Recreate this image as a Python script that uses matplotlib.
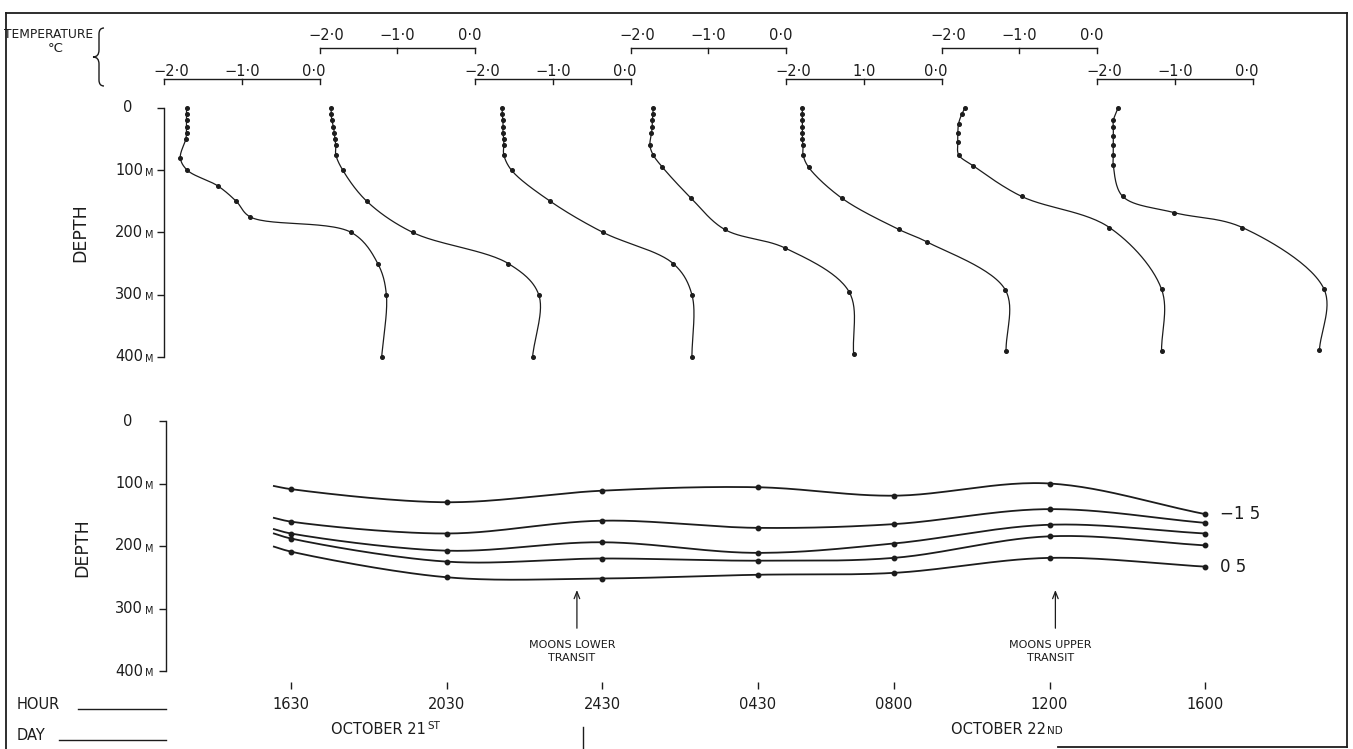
"""
Vertical temperature profiles (top) and isotherm depths (bottom),
October 21st-22nd, with the moon's transits marked.
"""
import numpy as np
import matplotlib

matplotlib.use("Agg")
import matplotlib.pyplot as plt
from matplotlib.lines import Line2D
from matplotlib.patches import PathPatch
from matplotlib.path import Path
from matplotlib.transforms import blended_transform_factory

W, H = 1353, 749
INK = "#1c1c1c"

# --- data ---
# top panel: one temperature profile per station (depth m, temperature C)
profile_depths = [
    [0, 10, 20, 30, 40, 50, 80, 100, 125, 150, 175, 200, 250, 300, 400],
    [0, 10, 20, 30, 40, 50, 60, 75, 100, 150, 200, 250, 300, 400],
    [0, 10, 20, 30, 40, 50, 60, 75, 100, 150, 200, 250, 300, 400],
    [0, 10, 20, 30, 40, 60, 75, 95, 145, 195, 225, 295, 395],
    [0, 10, 20, 30, 40, 50, 60, 75, 95, 145, 195, 215, 292, 391],
    [0, 10, 25, 40, 55, 75, 93, 142, 192, 291, 390],
    [0, 20, 30, 45, 60, 75, 92, 142, 168, 192, 291, 389],
]
profile_temps = [
    [-1.71, -1.71, -1.71, -1.71, -1.71, -1.72, -1.79, -1.70, -1.31, -1.07, -0.89, 0.41, 0.75, 0.86, 0.80],
    [-1.85, -1.85, -1.84, -1.82, -1.81, -1.80, -1.79, -1.79, -1.70, -1.39, -0.80, 0.43, 0.82, 0.74],
    [-1.65, -1.65, -1.64, -1.64, -1.64, -1.63, -1.63, -1.63, -1.53, -1.03, -0.35, 0.55, 0.79, 0.79],
    [-1.71, -1.71, -1.72, -1.72, -1.73, -1.75, -1.71, -1.59, -1.22, -0.79, -0.01, 0.81, 0.87],
    [-1.79, -1.79, -1.79, -1.79, -1.79, -1.79, -1.78, -1.78, -1.71, -1.28, -0.55, -0.19, 0.82, 0.83],
    [-1.70, -1.74, -1.78, -1.79, -1.79, -1.78, -1.59, -0.97, 0.16, 0.83, 0.83],
    [-1.73, -1.79, -1.79, -1.79, -1.79, -1.79, -1.79, -1.67, -1.01, -0.13, 0.92, 0.86],
]
scale_ticks = [-2.0, -1.0, 0.0]
scale_ticklabels = [
    ["−2·0", "−1·0", "0·0"],
    ["−2·0", "−1·0", "0·0"],
    ["−2·0", "−1·0", "0·0"],
    ["−2·0", "−1·0", "0·0"],
    ["−2·0", "1·0", "0·0"],
    ["−2·0", "−1·0", "0·0"],
    ["−2·0", "−1·0", "0·0"],
]

# bottom panel: depth of each isotherm at each station
station_hours = [0, 4, 8, 12, 15.5, 19.5, 23.5]   # hours after 1630, Oct 21
hour_labels = ["1630", "2030", "2430", "0430", "0800", "1200", "1600"]
isotherm_values = [-1.5, -1.0, -0.5, 0.0, 0.5]
isotherm_depths = [
    [109, 130, 111.5, 106, 119.5, 100, 149],
    [161, 180, 159.5, 171, 165, 141, 163],
    [180, 207.5, 194, 211, 196, 166, 180],
    [188, 225, 220, 223.5, 219, 184.5, 199],
    [209, 250, 252, 246, 243, 219, 233],
]
isotherm_start_hour = -0.44
isotherm_start_depths = [104, 155, 173, 180, 201]
isotherm_labels = {0: "−1 5", 4: "0 5"}

transit_hours = [7.35, 19.65]
transit_labels = ["MOONS LOWER\nTRANSIT", "MOONS UPPER\nTRANSIT"]
midnight_hour = 7.5

depth_ticks = [0, 100, 200, 300, 400]


def fx(px):
    return px / W


def fy(py):
    return 1 - py / H


def smooth(x, y, sx, sy, n=30):
    """centripetal Catmull-Rom through the points (computed in pixel space)"""
    p = np.column_stack([np.asarray(x, float) * sx, np.asarray(y, float) * sy])
    p = np.vstack([2 * p[0] - p[1], p, 2 * p[-1] - p[-2]])
    out = []
    for i in range(1, len(p) - 2):
        p0, p1, p2, p3 = p[i - 1], p[i], p[i + 1], p[i + 2]
        t0 = 0.0
        t1 = t0 + max(np.hypot(*(p1 - p0)), 1e-6) ** 0.5
        t2 = t1 + max(np.hypot(*(p2 - p1)), 1e-6) ** 0.5
        t3 = t2 + max(np.hypot(*(p3 - p2)), 1e-6) ** 0.5
        t = np.linspace(t1, t2, n)[:, None]
        a1 = (t1 - t) / (t1 - t0) * p0 + (t - t0) / (t1 - t0) * p1
        a2 = (t2 - t) / (t2 - t1) * p1 + (t - t1) / (t2 - t1) * p2
        a3 = (t3 - t) / (t3 - t2) * p2 + (t - t2) / (t3 - t2) * p3
        b1 = (t2 - t) / (t2 - t0) * a1 + (t - t0) / (t2 - t0) * a2
        b2 = (t3 - t) / (t3 - t1) * a2 + (t - t1) / (t3 - t1) * a3
        c = (t2 - t) / (t2 - t1) * b1 + (t - t1) / (t2 - t1) * b2
        out.append(c)
    c = np.vstack(out)
    return c[:, 0] / sx, c[:, 1] / sy


def depth_axis(ax, left_px, right_px):
    ax.set_ylim(400, 0)
    for s in ("top", "right", "bottom"):
        ax.spines[s].set_visible(False)
    ax.spines["left"].set_color(INK)
    ax.spines["left"].set_linewidth(1.0)
    ax.set_yticks(depth_ticks, labels=[])
    ax.tick_params(axis="y", direction="out", length=5, width=1.0, color=INK)
    tr = ax.get_yaxis_transform()
    span = right_px - left_px
    for d in depth_ticks:
        if d == 0:
            ax.text((128 - left_px) / span, d, "0", transform=tr, ha="center",
                    va="center", fontsize=10.5, color=INK)
        else:
            ax.text((143 - left_px) / span, d, str(d), transform=tr, ha="right",
                    va="center", fontsize=10.5, color=INK)
            ax.text((145 - left_px) / span, d + 4, "M", transform=tr, ha="left",
                    va="center", fontsize=7, color=INK)


fig = plt.figure(figsize=(W / 100, H / 100), dpi=100)
plt.rcParams["font.family"] = ["DejaVu Sans"]

# --- top panel: profiles, each on its own shifted temperature scale ---
px_per_deg = 77.75
top_left, top_right = 164, 1345
ax1 = fig.add_axes([fx(top_left), fy(357), (top_right - top_left) / W, (357 - 108) / H])
ax1.set_xlim(0, (top_right - top_left) / px_per_deg)
ax1.set_xticks([])
ax1.patch.set_visible(False)
depth_axis(ax1, top_left, top_right)

sy1 = 0.6225
for k, (d, t) in enumerate(zip(profile_depths, profile_temps)):
    x = np.array(t) + 2.0 + 2.0 * k
    cx, cy = smooth(x, d, px_per_deg, sy1)
    ax1.plot(cx, cy, color=INK, lw=0.9, clip_on=False)
    ax1.plot(x, d, "o", color=INK, ms=2.6, clip_on=False)

    # temperature scale above the panel
    upper = k % 2 == 1
    y_line = (48 - 108) / sy1 if upper else (79 - 108) / sy1
    y_text = (40.5 - 108) / sy1 if upper else (76 - 108) / sy1
    x0 = 2.0 * k
    ax1.plot([x0, x0 + 2.0], [y_line, y_line], color=INK, lw=1.0, clip_on=False)
    for tv in scale_ticks:
        ax1.plot([x0 + tv + 2.0] * 2, [y_line, y_line + 7.5], color=INK, lw=1.0,
                 clip_on=False)
    shifts = [0.09, 0.0, -0.07]
    for tv, lab, sh in zip(scale_ticks, scale_ticklabels[k], shifts):
        ax1.text(x0 + tv + 2.0 + sh, y_text, lab, ha="center", va="baseline",
                 fontsize=10.5, color=INK, clip_on=False)

# --- bottom panel: isotherm depths through time ---
px_per_hour = 38.9
bot_left, bot_right = 166, 1345
ax2 = fig.add_axes([fx(bot_left), fy(671), (bot_right - bot_left) / W, (671 - 421) / H])
ax2.set_xlim((bot_left - 291) / px_per_hour, (bot_right - 291) / px_per_hour)
ax2.patch.set_visible(False)
depth_axis(ax2, bot_left, bot_right)
ax2.spines["bottom"].set_position(("outward", 8))
ax2.set_xticks(station_hours, labels=hour_labels)
ax2.tick_params(axis="x", direction="out", length=5, width=1.0, color=INK,
                pad=6, labelsize=10.5, labelcolor=INK)

for i, (val, dep) in enumerate(zip(isotherm_values, isotherm_depths)):
    xs = [isotherm_start_hour] + station_hours
    ys = [isotherm_start_depths[i]] + dep
    cx, cy = smooth(xs, ys, px_per_hour, 0.625)
    ax2.plot(cx, cy, color=INK, lw=1.3)
    ax2.plot(station_hours, dep, "o", color=INK, ms=3.2)
    if i in isotherm_labels:
        ax2.annotate(isotherm_labels[i], xy=(station_hours[-1], dep[-1]),
                     xytext=(15, 0), textcoords="offset pixels", ha="left",
                     va="center", fontsize=12, color=INK)

for h, lab in zip(transit_hours, transit_labels):
    ax2.annotate("", xy=(h, 266), xytext=(h, 336),
                 arrowprops=dict(arrowstyle="->,head_length=0.5,head_width=0.2",
                                 lw=0.9, color=INK))
    ax2.annotate(lab, xy=(h, 369), xytext=(-5, 0), textcoords="offset pixels",
                 ha="center", va="center", fontsize=8, color=INK, linespacing=1.35)

# day divider at midnight, below the hour labels
tr_day = blended_transform_factory(ax2.transData, fig.transFigure)
ax2.plot([midnight_hour, midnight_hour], [fy(727), fy(749)], transform=tr_day,
         color=INK, lw=1.0, clip_on=False)

# --- figure labels ---
fig.text(fx(80), fy(233), "DEPTH", rotation=90, ha="center", va="center",
         fontsize=12.5, color=INK)
fig.text(fx(82), fy(548), "DEPTH", rotation=90, ha="center", va="center",
         fontsize=12.5, color=INK)
fig.text(fx(4), fy(35), "TEMPERATURE", ha="left", va="center", fontsize=8.8, color=INK)
fig.text(fx(56), fy(48), "°C", ha="center", va="center", fontsize=9.5, color=INK)

brace_px = [(104, 28), (99, 28), (99, 34), (99, 50), (99, 57), (93, 57),
            (99, 57), (99, 64), (99, 80), (99, 86), (104, 86)]
brace_codes = [Path.MOVETO, Path.CURVE3, Path.CURVE3, Path.LINETO, Path.CURVE3,
               Path.CURVE3, Path.CURVE3, Path.CURVE3, Path.LINETO, Path.CURVE3,
               Path.CURVE3]
brace = Path([(fx(x), fy(y)) for x, y in brace_px], brace_codes)
fig.add_artist(PathPatch(brace, transform=fig.transFigure, fill=False,
                         edgecolor=INK, lw=1.0))

fig.text(fx(17), fy(709), "HOUR", ha="left", va="baseline", fontsize=10.5, color=INK)
fig.text(fx(17), fy(740), "DAY", ha="left", va="baseline", fontsize=10.5, color=INK)
fig.add_artist(Line2D([fx(78), fx(166)], [fy(709), fy(709)], transform=fig.transFigure,
                      color=INK, lw=1.0))
fig.add_artist(Line2D([fx(59), fx(166)], [fy(740), fy(740)], transform=fig.transFigure,
                      color=INK, lw=1.0))

fig.text(fx(426), fy(729), "OCTOBER 21", ha="right", va="center", fontsize=10.5, color=INK)
fig.text(fx(427), fy(726), "ST", ha="left", va="center", fontsize=7.5, color=INK)
fig.text(fx(1046), fy(729), "OCTOBER 22", ha="right", va="center", fontsize=10.5, color=INK)
fig.text(fx(1047), fy(731), "ND", ha="left", va="center", fontsize=7.5, color=INK)

# frame of the plate
for xs, ys in [([6, 6], [13, 749]), ([6, 1347], [13, 13]), ([1347, 1347], [13, 747]),
               ([1058, 1347], [747, 747])]:
    fig.add_artist(Line2D([fx(v) for v in xs], [fy(v) for v in ys],
                          transform=fig.transFigure, color=INK, lw=1.3))

fig.savefig("out.png", dpi=100)
